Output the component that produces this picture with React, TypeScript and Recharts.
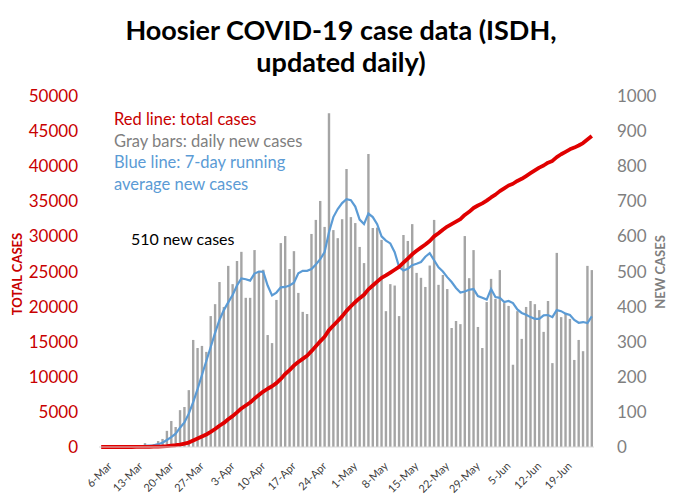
import { ComposedChart, Bar, Line, XAxis, YAxis } from "recharts";

// daily categories, 4-Mar .. 24-Jun
const dates = [
  "4-Mar", "5-Mar", "6-Mar", "7-Mar", "8-Mar", "9-Mar", "10-Mar", "11-Mar", "12-Mar", "13-Mar",
  "14-Mar", "15-Mar", "16-Mar", "17-Mar", "18-Mar", "19-Mar", "20-Mar", "21-Mar", "22-Mar", "23-Mar",
  "24-Mar", "25-Mar", "26-Mar", "27-Mar", "28-Mar", "29-Mar", "30-Mar", "31-Mar",
  "1-Apr", "2-Apr", "3-Apr", "4-Apr", "5-Apr", "6-Apr", "7-Apr", "8-Apr", "9-Apr", "10-Apr",
  "11-Apr", "12-Apr", "13-Apr", "14-Apr", "15-Apr", "16-Apr", "17-Apr", "18-Apr", "19-Apr", "20-Apr",
  "21-Apr", "22-Apr", "23-Apr", "24-Apr", "25-Apr", "26-Apr", "27-Apr", "28-Apr", "29-Apr", "30-Apr",
  "1-May", "2-May", "3-May", "4-May", "5-May", "6-May", "7-May", "8-May", "9-May", "10-May",
  "11-May", "12-May", "13-May", "14-May", "15-May", "16-May", "17-May", "18-May", "19-May", "20-May",
  "21-May", "22-May", "23-May", "24-May", "25-May", "26-May", "27-May", "28-May", "29-May", "30-May", "31-May",
  "1-Jun", "2-Jun", "3-Jun", "4-Jun", "5-Jun", "6-Jun", "7-Jun", "8-Jun", "9-Jun", "10-Jun",
  "11-Jun", "12-Jun", "13-Jun", "14-Jun", "15-Jun", "16-Jun", "17-Jun", "18-Jun", "19-Jun", "20-Jun",
  "21-Jun", "22-Jun", "23-Jun", "24-Jun",
];

// gray bars: daily new cases (right axis)
const newCases = [
  0, 0, 0, 1, 0, 1, 0, 2, 1, 2,
  11, 5, 8, 17, 23, 46, 74, 57, 105, 114,
  162, 305, 282, 288, 271, 373, 407, 470, 399, 516,
  464, 530, 556, 425, 425, 561, 500, 505, 319, 296,
  419, 581, 601, 507, 558, 439, 385, 379, 607, 647,
  701, 627, 951, 618, 595, 649, 792, 655, 638, 570,
  524, 835, 624, 625, 590, 387, 464, 460, 373, 604,
  587, 635, 496, 482, 456, 517, 647, 462, 490, 450,
  339, 359, 350, 601, 481, 561, 342, 282, 413, 479,
  422, 504, 410, 402, 234, 387, 308, 399, 416, 407,
  390, 328, 416, 239, 553, 370, 379, 365, 248, 305,
  273, 516, 504,
];

// red line: total cases (left axis)
const totalCases = [
  0, 0, 0, 0, 0, 0, 0, 0, 10, 15,
  25, 30, 40, 55, 80, 120, 190, 250, 350, 470,
  630, 930, 1210, 1500, 1780, 2150, 2560, 3030, 3430, 3950,
  4400, 4930, 5490, 5910, 6340, 6900, 7400, 7900, 8300, 8650,
  9100, 9700, 10400, 10950, 11600, 12100, 12550, 13000, 13650, 14350,
  15050, 15700, 16650, 17300, 17950, 18600, 19400, 20050, 20650, 21200,
  21700, 22450, 23000, 23550, 24100, 24450, 24850, 25250, 25650, 26250,
  26850, 27450, 27950, 28400, 28850, 29350, 30000, 30450, 30950, 31400,
  31750, 32100, 32450, 33050, 33500, 34050, 34400, 34700, 35100, 35550,
  35950, 36450, 36850, 37250, 37500, 37900, 38200, 38600, 39000, 39400,
  39800, 40100, 40500, 40750, 41300, 41700, 42050, 42400, 42650, 42950,
  43300, 43800, 44300,
];

// blue line: 7-day running average of new cases (right axis)
const avg7 = [
  0, 0, 0, 0, 0, 0, 0, 1, 1, 2,
  3, 4, 5, 8, 12, 20, 28, 38, 55, 70,
  95, 128, 165, 205, 245, 285, 325, 362, 390, 412,
  433, 460, 480, 478, 474, 494, 500, 499, 460, 432,
  440, 455, 456, 460, 468, 495, 502, 502, 507, 520,
  535, 555, 612, 655, 678, 695, 706, 703, 685, 648,
  635, 665, 655, 635, 600, 588, 580, 555, 513, 503,
  508, 518, 522, 527, 542, 552, 532, 512, 500, 484,
  470, 453, 440, 443, 448, 450, 430, 425, 420, 450,
  427, 425, 413, 416, 410, 392, 382, 377, 370, 365,
  365, 375, 376, 370, 390, 387, 380, 376, 362, 354,
  356, 353, 372,
];

const xTicks = [
  "6-Mar", "13-Mar", "20-Mar", "27-Mar", "3-Apr", "10-Apr", "17-Apr", "24-Apr",
  "1-May", "8-May", "15-May", "22-May", "29-May", "5-Jun", "12-Jun", "19-Jun",
];
const leftTicks = [0, 5000, 10000, 15000, 20000, 25000, 30000, 35000, 40000, 45000, 50000];
const rightTicks = [0, 100, 200, 300, 400, 500, 600, 700, 800, 900, 1000];

const data = dates.map((d, i) => ({
  date: d,
  newCases: newCases[i],
  total: totalCases[i],
  avg: avg7[i],
}));

const FONT = "Lato, 'Open Sans', sans-serif";
const RED = "#c80000";
const GRAY = "#7f7f7f";
const BLUE = "#5b9bd5";

const DateTick = ({ x, y, payload }: any) => (
  <g transform={`translate(${x},${y})`}>
    <text
      x={0}
      y={0}
      dy="0.35em"
      textAnchor="end"
      transform="rotate(-45)"
      fill="#404040"
      fontSize={11}
      fontFamily={FONT}
    >
      {payload.value}
    </text>
  </g>
);

// text placed by its centre point (or left edge + vertical centre)
const Note = ({ x, y, color, size, bold, rotate, left, children }: any) => (
  <div
    style={{
      position: "absolute",
      left: x,
      top: y,
      transform: left
        ? "translateY(-50%)"
        : `translate(-50%,-50%)${rotate ? " rotate(-90deg)" : ""}`,
      color,
      fontSize: size,
      fontWeight: bold ? 700 : 400,
      fontFamily: FONT,
      whiteSpace: "nowrap",
      lineHeight: 1.2,
    }}
  >
    {children}
  </div>
);

export default function App() {
  return (
    <div
      style={{
        position: "absolute",
        left: 0,
        top: 0,
        width: 682,
        height: 495,
        background: "#fff",
        overflow: "hidden",
      }}
    >
      <ComposedChart
        width={682}
        height={495}
        data={data}
        margin={{ top: 96, right: 0, bottom: 0, left: 0 }}
      >
        <XAxis
          dataKey="date"
          ticks={xTicks}
          interval={0}
          tick={<DateTick />}
          tickLine={false}
          axisLine={{ stroke: "#d9d9d9" }}
          tickMargin={11}
          height={48}
        />
        <YAxis
          yAxisId="left"
          orientation="left"
          width={99}
          domain={[0, 50000]}
          ticks={leftTicks}
          interval={0}
          tickLine={false}
          axisLine={false}
          tickMargin={15}
          tick={{ fill: RED, fontSize: 17, fontFamily: FONT }}
        />
        <YAxis
          yAxisId="right"
          orientation="right"
          width={88}
          domain={[0, 1000]}
          ticks={rightTicks}
          interval={0}
          tickLine={false}
          axisLine={false}
          tickMargin={17}
          tick={{ fill: GRAY, fontSize: 17, fontFamily: FONT }}
        />
        <Bar yAxisId="right" dataKey="newCases" fill="#a5a5a5" barSize={2.4} isAnimationActive={false} />
        <Line
          yAxisId="right"
          type="linear"
          dataKey="avg"
          stroke={BLUE}
          strokeWidth={2.2}
          dot={false}
          activeDot={false}
          isAnimationActive={false}
        />
        <Line
          yAxisId="left"
          type="linear"
          dataKey="total"
          stroke="#e00000"
          strokeWidth={3.8}
          strokeLinejoin="round"
          dot={false}
          activeDot={false}
          isAnimationActive={false}
        />
      </ComposedChart>

      <Note x={341} y={30} color="#000" size={27} bold>
        Hoosier COVID-19 case data (ISDH,
      </Note>
      <Note x={341} y={62} color="#000" size={27} bold>
        updated daily)
      </Note>

      <Note x={114} y={120} color={RED} size={16.5} left>
        Red line: total cases
      </Note>
      <Note x={114} y={142} color={GRAY} size={16.5} left>
        Gray bars: daily new cases
      </Note>
      <Note x={114} y={163} color={BLUE} size={16.5} left>
        Blue line: 7-day running
      </Note>
      <Note x={114} y={185} color={BLUE} size={16.5} left>
        average new cases
      </Note>
      <Note x={131} y={239} color="#000" size={16} left>
        510 new cases
      </Note>

      <Note x={18} y={274} color={RED} size={13} bold rotate>
        TOTAL CASES
      </Note>
      <Note x={661} y={272} color={GRAY} size={13} bold rotate>
        NEW CASES
      </Note>
    </div>
  );
}
